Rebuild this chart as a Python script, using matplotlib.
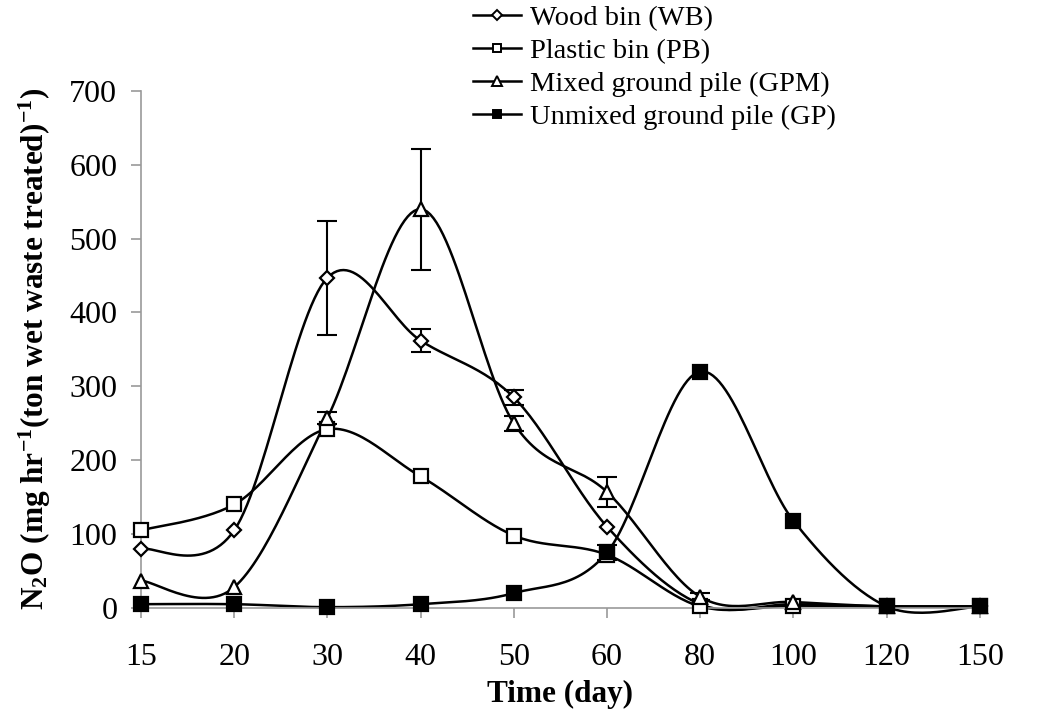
import numpy as np
import matplotlib
matplotlib.use("Agg")
import matplotlib.pyplot as plt

plt.rcParams['font.family'] = ['Liberation Serif', 'DejaVu Serif']
plt.rcParams['mathtext.fontset'] = 'custom'
plt.rcParams['mathtext.rm'] = 'Liberation Serif'
plt.rcParams['mathtext.bf'] = 'Liberation Serif:bold'

# days (categorical axis)
days = ['15', '20', '30', '40', '50', '60', '80', '100', '120', '150']

wb = [80, 105, 447, 362, 285, 110, 5, 5, 2, 2]
wb_err = [0, 0, 77, 15, 10, 0, 0, 0, 0, 0]

pb = [105, 140, 242, 178, 98, 72, 2, 3, 2, 2]
pb_err = [0, 0, 0, 0, 0, 0, 0, 0, 0, 0]

gpm = [37, 28, 257, 540, 250, 157, 15, 8, 2, 2]
gpm_err = [0, 0, 8, 82, 10, 20, 5, 0, 0, 0]

gp = [5, 5, 1, 5, 20, 75, 320, 118, 2, 2]
gp_err = [0, 0, 0, 0, 0, 10, 0, 0, 0, 0]


def smooth(x, y, n=30):
    # excel-like smoothed line (catmull-rom bezier)
    x = np.asarray(x, float)
    y = np.asarray(y, float)
    px = np.concatenate([[x[0]], x, [x[-1]]])
    py = np.concatenate([[y[0]], y, [y[-1]]])
    xs, ys = [], []
    t = np.linspace(0, 1, n)
    for i in range(1, len(px) - 2):
        p0 = np.array([px[i], py[i]])
        p3 = np.array([px[i + 1], py[i + 1]])
        c1 = p0 + (np.array([px[i + 1], py[i + 1]]) - np.array([px[i - 1], py[i - 1]])) / 6
        c2 = p3 - (np.array([px[i + 2], py[i + 2]]) - np.array([px[i], py[i]])) / 6
        b = ((1 - t) ** 3)[:, None] * p0 + (3 * (1 - t) ** 2 * t)[:, None] * c1 \
            + (3 * (1 - t) * t ** 2)[:, None] * c2 + (t ** 3)[:, None] * p3
        xs.extend(b[:, 0])
        ys.extend(b[:, 1])
    return xs, ys


fig = plt.figure(figsize=(10.42, 7.16), dpi=100)
ax = fig.add_axes([0.1353, 0.151, 0.805, 0.722])

xi = np.arange(len(days))
series = [
    (wb, wb_err, 'D', 'white', 7.5, 'Wood bin (WB)'),
    (pb, pb_err, 's', 'white', 9.5, 'Plastic bin (PB)'),
    (gpm, gpm_err, '^', 'white', 10, 'Mixed ground pile (GPM)'),
    (gp, gp_err, 's', 'black', 9.5, 'Unmixed ground pile (GP)'),
]
handles = []
for y, err, m, fc, ms, lab in series:
    sx, sy = smooth(xi, y)
    ax.plot(sx, sy, color='black', lw=1.8, zorder=2)
    e = np.array(err)
    idx = e > 0
    if idx.any():
        ax.errorbar(xi[idx], np.array(y)[idx], yerr=e[idx], fmt='none', ecolor='black',
                    elinewidth=1.5, capsize=7, capthick=1.5, zorder=3)
    ax.plot(xi, y, linestyle='none', marker=m, ms=ms, mfc=fc, mec='black', mew=1.6, zorder=4)
    h, = ax.plot([], [], color='black', lw=1.8, marker=m, ms=ms * 0.65, mfc=fc, mec='black',
                 mew=1.4, label=lab)
    handles.append(h)

ax.set_xlim(0, len(days) - 1)
ax.set_ylim(0, 700)
ax.set_xticks(xi)
ax.set_xticklabels(days)
ax.set_yticks(range(0, 701, 100))
ax.tick_params(labelsize=23, color='#999999', length=7, width=1.2, direction='out')
ax.tick_params(axis='x', pad=18)
ax.tick_params(axis='y', pad=10)
for s in ['top', 'right']:
    ax.spines[s].set_visible(False)
for s in ['left', 'bottom']:
    ax.spines[s].set_color('#999999')
    ax.spines[s].set_linewidth(1.2)
for art in ax.lines:
    art.set_clip_on(False)

ax.set_xlabel('Time (day)', fontsize=22.5, fontweight='bold', labelpad=6)
ax.set_ylabel(r'N$\mathbf{_2}$O (mg hr$\mathbf{^{-1}}$(ton wet waste treated)$\mathbf{^{-1}}$)',
              fontsize=22.5, fontweight='bold', labelpad=12)

fig.legend(handles=handles, loc='upper left', bbox_to_anchor=(0.443, 1.009), frameon=False,
           fontsize=20.5, handlelength=1.7, handletextpad=0.3, labelspacing=0.25,
           borderaxespad=0)

fig.savefig('out.png', dpi=100)
